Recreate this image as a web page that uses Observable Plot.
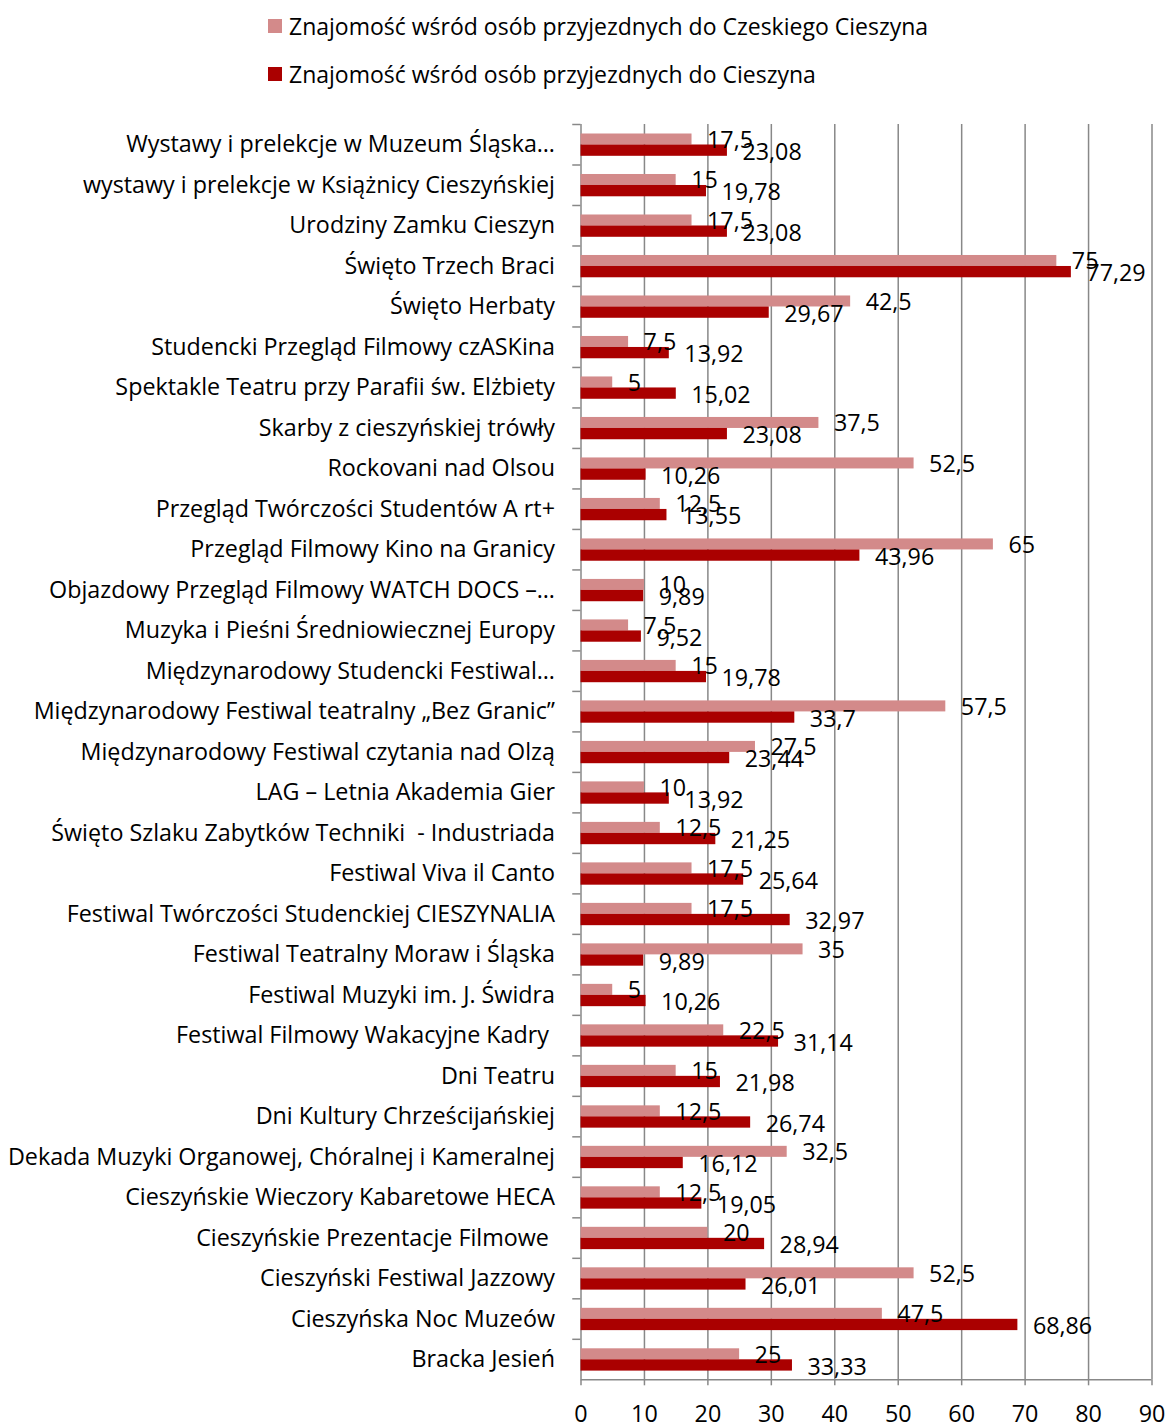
<!DOCTYPE html>
<html>
<head>
<meta charset="utf-8">
<script src="https://cdn.jsdelivr.net/npm/d3@7"></script>
<script src="https://cdn.jsdelivr.net/npm/@observablehq/plot@0.6"></script>
<style>
  body { margin: 0; background: #fff; font-family: "Open Sans", sans-serif; }
  #wrap { position: relative; width: 1168px; height: 1423px; overflow: hidden; }
  #legend { position: relative; width: 1168px; height: 100px; }
  .sw { position: absolute; width: 14px; height: 14px; }
  .lt { position: absolute; font-size: 23px; color: #000; white-space: nowrap; line-height: 1; }
  #chart { position: absolute; left: 0; top: 100px; }
</style>
</head>
<body>
<div id="wrap">
  <div id="legend"></div>
  <div id="chart"></div>
</div>
<script>
const categories = [
  "Wystawy i prelekcje w Muzeum Śląska…",
  "wystawy i prelekcje w Książnicy Cieszyńskiej",
  "Urodziny Zamku Cieszyn",
  "Święto Trzech Braci",
  "Święto Herbaty",
  "Studencki Przegląd Filmowy czASKina",
  "Spektakle Teatru przy Parafii św. Elżbiety",
  "Skarby z cieszyńskiej trówły",
  "Rockovani nad Olsou",
  "Przegląd Twórczości Studentów A rt+",
  "Przegląd Filmowy Kino na Granicy",
  "Objazdowy Przegląd Filmowy WATCH DOCS –…",
  "Muzyka i Pieśni Średniowiecznej Europy",
  "Międzynarodowy Studencki Festiwal…",
  "Międzynarodowy Festiwal teatralny „Bez Granic”",
  "Międzynarodowy Festiwal czytania nad Olzą",
  "LAG – Letnia Akademia Gier",
  "Święto Szlaku Zabytków Techniki \u00A0- Industriada",
  "Festiwal Viva il Canto",
  "Festiwal Twórczości Studenckiej CIESZYNALIA",
  "Festiwal Teatralny Moraw i Śląska",
  "Festiwal Muzyki im. J. Świdra",
  "Festiwal Filmowy Wakacyjne Kadry\u00A0",
  "Dni Teatru",
  "Dni Kultury Chrześcijańskiej",
  "Dekada Muzyki Organowej, Chóralnej i Kameralnej",
  "Cieszyńskie Wieczory Kabaretowe HECA",
  "Cieszyńskie Prezentacje Filmowe\u00A0",
  "Cieszyński Festiwal Jazzowy",
  "Cieszyńska Noc Muzeów",
  "Bracka Jesień"
];
const czeskiCieszyn = [17.5, 15, 17.5, 75, 42.5, 7.5, 5, 37.5, 52.5, 12.5, 65, 10, 7.5, 15, 57.5, 27.5, 10, 12.5, 17.5, 17.5, 35, 5, 22.5, 15, 12.5, 32.5, 12.5, 20, 52.5, 47.5, 25];
const cieszyn = [23.08, 19.78, 23.08, 77.29, 29.67, 13.92, 15.02, 23.08, 10.26, 13.55, 43.96, 9.89, 9.52, 19.78, 33.7, 23.44, 13.92, 21.25, 25.64, 32.97, 9.89, 10.26, 31.14, 21.98, 26.74, 16.12, 19.05, 28.94, 26.01, 68.86, 33.33];
const seriesNames = ["Znajomość wśród osób przyjezdnych do Czeskiego Cieszyna", "Znajomość wśród osób przyjezdnych do Cieszyna"];
const xTicks = [0, 10, 20, 30, 40, 50, 60, 70, 80, 90];

const colorLight = "#D38A8A";
const colorDark = "#AA0000";
const gray = "#888888";

const rows = categories.map((c, i) => ({category: c, czech: czeskiCieszyn[i], cieszyn: cieszyn[i]}));
const fmt = v => String(v).replace(".", ",");

// legend
const legend = document.getElementById("legend");
[[seriesNames[0], colorLight, 19], [seriesNames[1], colorDark, 67]].forEach(([name, col, top]) => {
  const s = document.createElement("div");
  s.className = "sw"; s.style.left = "268px"; s.style.top = top + "px"; s.style.background = col;
  legend.appendChild(s);
  const t = document.createElement("div");
  t.className = "lt"; t.style.left = "289px"; t.style.top = (top - 4) + "px"; t.textContent = name;
  legend.appendChild(t);
});

const W = 1168, H = 1323, mT = 24, mB = 43.7;
const bw = (H - mT - mB) / categories.length;
const fs = 23.3;

const chart = Plot.plot({
  width: W,
  height: H,
  marginTop: mT,
  marginBottom: mB,
  marginLeft: 580.5,
  marginRight: 16.5,
  style: {fontFamily: "Open Sans", fontSize: fs + "px", color: "#000", background: "#fff", overflow: "visible"},
  x: {domain: [0, 90]},
  y: {domain: categories, padding: 0, round: false},
  marks: [
    Plot.ruleX(xTicks.slice(1), {stroke: gray, strokeWidth: 1.5}),
    Plot.ruleX([0], {stroke: gray, strokeWidth: 1.5}),
    Plot.ruleY(categories, {y: d => d, x1: -1.3, x2: 0, dy: -bw / 2, stroke: gray, strokeWidth: 1.5}),
    Plot.ruleY([categories[categories.length - 1]], {y: d => d, dy: bw / 2, stroke: gray, strokeWidth: 1.5}),
    Plot.barX(rows, {x: "czech", y: "category", fill: colorLight, insetTop: 9.5, insetBottom: bw - 20.5}),
    Plot.barX(rows, {x: "cieszyn", y: "category", fill: colorDark, insetTop: 20.5, insetBottom: bw - 31.8}),
    Plot.text(rows, {x: "czech", y: "category", text: d => fmt(d.czech), dx: 15, dy: -4.5, textAnchor: "start", fontSize: fs, fill: "#000"}),
    Plot.text(rows, {x: "cieszyn", y: "category", text: d => fmt(d.cieszyn), dx: 15, dy: 7.5, textAnchor: "start", fontSize: fs, fill: "#000"}),
    Plot.axisY({tickSize: 0, tickPadding: 26, fontSize: fs, label: null}),
    Plot.axisX({ticks: xTicks, tickSize: 6, tickPadding: 20, fontSize: fs, stroke: gray, strokeWidth: 1.5, label: null, tickFormat: d => String(d)})
  ]
});
document.getElementById("chart").appendChild(chart);
</script>
</body>
</html>
